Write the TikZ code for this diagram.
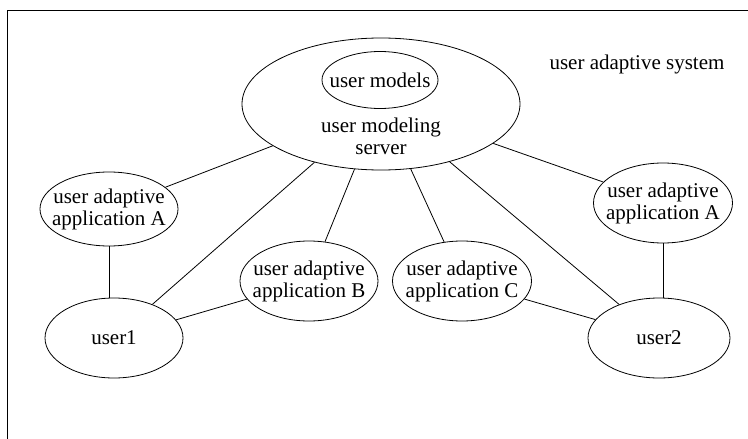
\documentclass[tikz,border=0pt]{standalone}
\usepackage{fontspec}
\setmainfont{Liberation Serif}
\usetikzlibrary{shapes.geometric}
\begin{document}
\begin{tikzpicture}[x=1pt,y=-1pt,
  every node/.style={font=\fontsize{21}{22}\selectfont, align=center},
  oval/.style={draw, ellipse, inner sep=0pt, line width=0.8pt},
  link/.style={line width=0.8pt}]
\useasboundingbox (0,0) rectangle (748,439);
\fill[white] (0,0) rectangle (748,439);
% frame (only top and left edges visible)
\draw[line width=1pt] (7,445) -- (7,10) -- (755,10);
\node at (637,64) (sys) {user adaptive system};
% server
\node[oval, minimum width=278pt, minimum height=132pt] (server) at (381,104) {};
\node[oval, minimum width=116pt, minimum height=57pt] (models) at (380,80) {};
\node at (models) (modelstext) {user models};
\node at (381,136) (servertext) {user modeling\\server};
% applications and users
\node[oval, minimum width=138pt, minimum height=74pt] (aL) at (109,209) {};
\node[oval, minimum width=138pt, minimum height=80pt] (aB) at (309,281) {};
\node[oval, minimum width=139pt, minimum height=80pt] (aC) at (462,281) {};
\node[oval, minimum width=139pt, minimum height=80pt] (aR) at (663,203) {};
\node[oval, minimum width=138pt, minimum height=80pt] (u1) at (114,338) {};
\node[oval, minimum width=142pt, minimum height=80pt] (u2) at (659,338) {};
\node at (aL) (aLtext) {user adaptive\\application A};
\node at (aB) (aBtext) {user adaptive\\application B};
\node at (aC) (aCtext) {user adaptive\\application C};
\node at (aR) (aRtext) {user adaptive\\application A};
\node at (u1) (u1text) {user1};
\node at (u2) (u2text) {user2};
% connectors
\draw[link] (server) -- (aL);
\draw[link] (server) -- (u1);
\draw[link] (server) -- (aB);
\draw[link] (server) -- (aC);
\draw[link] (server) -- (u2);
\draw[link] (server) -- (aR);
\draw[link] (aL.south) -- (aL.south |- u1.north);
\draw[link] (aR.south) -- (aR.south |- u2.north);
\draw[link] (u1) -- (aB);
\draw[link] (aC) -- (u2);
\end{tikzpicture}
\end{document}
